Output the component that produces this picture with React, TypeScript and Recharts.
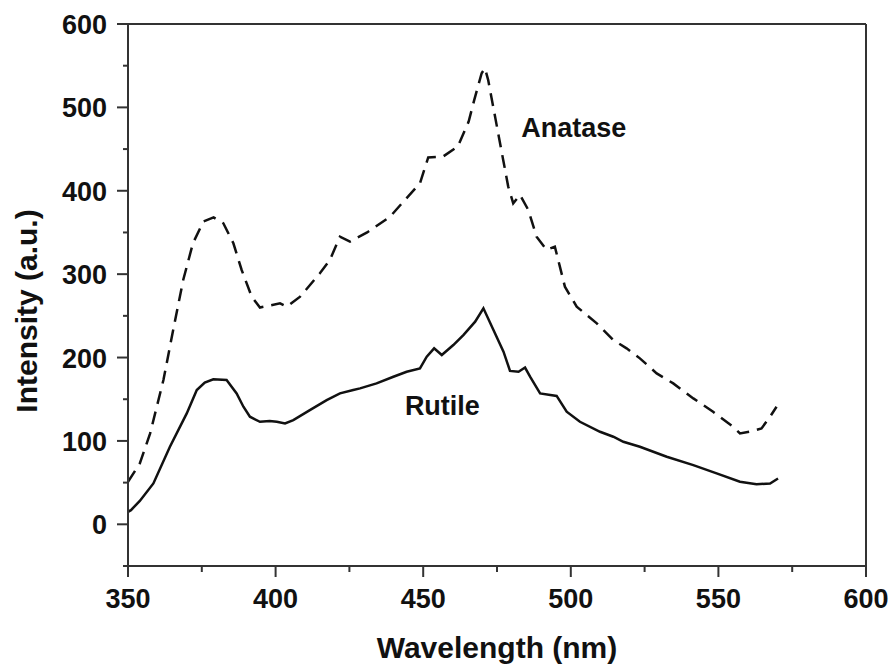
import {
  LineChart,
  Line,
  XAxis,
  YAxis,
  ReferenceLine,
  ReferenceDot,
  Label,
} from "recharts";

// wavelength (nm) / intensity (a.u.)
const anataseWl = [
  350, 354, 357.5, 362, 365.3, 368.7, 372, 375.5, 379, 382.3, 385.7, 388.5,
  391.9, 394.7, 401.5, 403.8, 408.3, 415, 418.4, 421.8, 425.2, 431, 438.8,
  443.3, 448.9, 451.7, 456.7, 461.7, 465.4, 467.3, 469.8, 470.9, 472, 473.7,
  475.4, 477.1, 478.8, 480.5, 482.8, 485.6, 488.4, 491.8, 494.6, 496.3, 498,
  502, 508.8, 514.4, 518.9, 523.4, 529.1, 534.7, 541.5, 548.2, 555, 557.3,
  561.8, 564.6, 567.5, 569.7,
];
const anataseI = [
  51, 73, 109, 173, 233, 293, 337, 363, 368, 361, 337, 305, 273, 260, 265,
  261, 273, 301, 317, 345, 339, 350, 369, 387, 409, 440, 441, 453, 483, 509,
  541, 547, 533, 501, 469, 437, 405, 385, 395, 377, 345, 329, 333, 309, 285,
  261, 241, 221, 211, 199, 181, 169, 151, 135, 117, 109, 112, 115, 129, 141,
];

const rutileWl = [
  350, 351, 354, 358.6, 364.2, 369.9, 373.3, 376, 378.9, 383.4, 386.8, 389.1,
  391.3, 394.7, 398, 400.4, 403.2, 406, 411.6, 417.3, 421.8, 426.3, 428.6,
  434.2, 439.9, 444.4, 448.9, 451.2, 453.7, 456.3, 460.2, 463.6, 467.6, 470.4,
  473.8, 477.2, 479.4, 482.3, 484.5, 486.2, 489.6, 495.2, 498.6, 503.1, 509.9,
  514.4, 517.8, 523.4, 532.5, 541.5, 549.4, 557.3, 562.9, 567.5, 570.2,
];
const rutileI = [
  15, 17, 28, 49, 93, 133, 161, 170, 174, 173, 157, 141, 129, 123, 124, 123,
  121, 125, 137, 149, 157, 161, 163, 169, 177, 183, 187, 201, 211, 203, 215,
  227, 243, 259, 233, 207, 184, 183, 188, 177, 157, 154, 135, 123, 111, 105,
  99, 93, 81, 71, 61, 51, 48, 49, 55,
];

const xTicks = [350, 375, 400, 425, 450, 475, 500, 525, 550, 575, 600];
const yTicks = [-50, 0, 50, 100, 150, 200, 250, 300, 350, 400, 450, 500, 550, 600];

const annotationText = ["Anatase", "Rutile"];
const annotationX = [501, 456.5];
const annotationY = [476, 142];

const anataseData = anataseWl.map((wl, i) => ({ wl, intensity: anataseI[i] }));
const rutileData = rutileWl.map((wl, i) => ({ wl, intensity: rutileI[i] }));

const FONT = '"Liberation Sans", Arial, sans-serif';
const AXIS = "#333";

function XTick(props: any) {
  const { x, y, payload } = props;
  const major = payload.value % 50 === 0;
  return (
    <g>
      <line x1={x} x2={x} y1={y} y2={y + (major ? 11 : 6)} stroke={AXIS} strokeWidth={2} />
      {major && (
        <text x={x} y={y + 42} textAnchor="middle" fontFamily={FONT} fontWeight="bold" fontSize={27} fill="#111">
          {payload.value}
        </text>
      )}
    </g>
  );
}

function YTick(props: any) {
  const { x, y, payload } = props;
  const major = payload.value % 100 === 0 && payload.value >= 0;
  return (
    <g>
      <line x1={x} x2={x - (major ? 11 : 5)} y1={y} y2={y} stroke={AXIS} strokeWidth={2} />
      {major && (
        <text x={x - 21} y={y + 10} textAnchor="end" fontFamily={FONT} fontWeight="bold" fontSize={27} fill="#111">
          {payload.value}
        </text>
      )}
    </g>
  );
}

export default function App() {
  return (
    <div style={{ position: "absolute", left: 0, top: 0 }}>
      <LineChart
        width={892}
        height={668}
        margin={{ top: 24, right: 26, left: 0, bottom: 0 }}
      >
        <XAxis
          type="number"
          dataKey="wl"
          domain={[350, 600]}
          ticks={xTicks}
          interval={0}
          allowDataOverflow
          height={102}
          tickSize={0}
          tickMargin={0}
          tickLine={false}
          tick={<XTick />}
          axisLine={{ stroke: AXIS, strokeWidth: 2 }}
        >
          <Label
            content={(p: any) => (
              <text
                x={p.viewBox.x + p.viewBox.width / 2}
                y={p.viewBox.y + 92}
                textAnchor="middle"
                fontFamily={FONT}
                fontWeight="bold"
                fontSize={30}
                fill="#111"
              >
                Wavelength (nm)
              </text>
            )}
          />
        </XAxis>
        <YAxis
          type="number"
          domain={[-50, 600]}
          ticks={yTicks}
          interval={0}
          allowDataOverflow
          width={128}
          tickSize={0}
          tickMargin={0}
          tickLine={false}
          tick={<YTick />}
          axisLine={{ stroke: AXIS, strokeWidth: 2 }}
        >
          <Label
            content={(p: any) => {
              const cx = p.viewBox.x + 37;
              const cy = p.viewBox.y + p.viewBox.height / 2 + 16;
              return (
                <text
                  x={cx}
                  y={cy}
                  transform={`rotate(-90 ${cx} ${cy})`}
                  textAnchor="middle"
                  fontFamily={FONT}
                  fontWeight="bold"
                  fontSize={30}
                  fill="#111"
                >
                  Intensity (a.u.)
                </text>
              );
            }}
          />
        </YAxis>
        <ReferenceLine y={600} stroke={AXIS} strokeWidth={2} />
        <ReferenceLine x={600} stroke={AXIS} strokeWidth={2} />
        <Line
          data={anataseData}
          dataKey="intensity"
          type="linear"
          stroke="#111"
          strokeWidth={2.5}
          strokeDasharray="13 8"
          dot={false}
          isAnimationActive={false}
        />
        <Line
          data={rutileData}
          dataKey="intensity"
          type="linear"
          stroke="#111"
          strokeWidth={2.5}
          dot={false}
          isAnimationActive={false}
        />
        {annotationText.map((t, i) => (
          <ReferenceDot
            key={t}
            x={annotationX[i]}
            y={annotationY[i]}
            r={0}
            fill="none"
            stroke="none"
            label={{
              value: t,
              position: "center",
              fontFamily: FONT,
              fontWeight: "bold",
              fontSize: 27,
              fill: "#111",
            }}
          />
        ))}
      </LineChart>
    </div>
  );
}
